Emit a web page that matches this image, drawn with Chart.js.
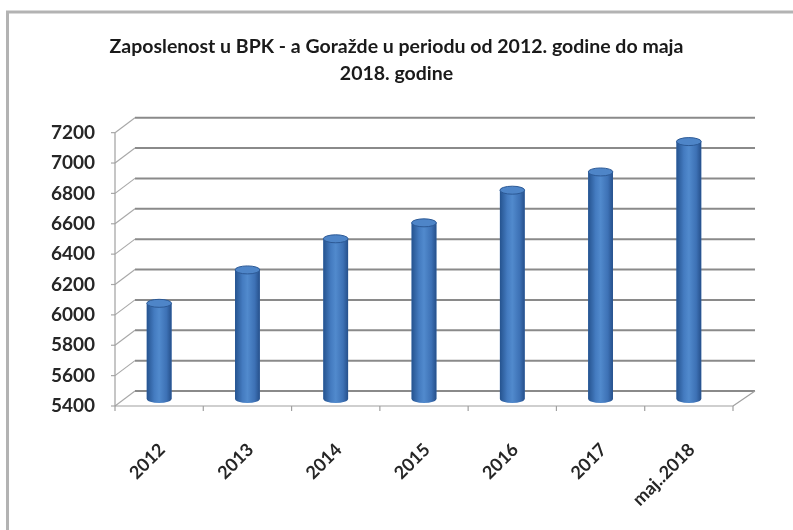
<!DOCTYPE html>
<html>
<head>
<meta charset="utf-8">
<script src="https://cdn.jsdelivr.net/npm/chart.js@4.4.1/dist/chart.umd.min.js"></script>
<style>
  html, body { margin: 0; padding: 0; background: #fff; }
  #wrap { width: 793px; height: 530px; }
</style>
</head>
<body>
<div id="wrap"><canvas id="employChart"></canvas></div>
<script>
const categories = ['2012', '2013', '2014', '2015', '2016', '2017', 'maj..2018'];
const employed = [6030, 6250, 6455, 6560, 6775, 6895, 7095];
const yTicks = [5400, 5600, 5800, 6000, 6200, 6400, 6600, 6800, 7000, 7200];
const titleLines = ['Zaposlenost u BPK - a Goražde u periodu od 2012. godine do maja', '2018. godine'];

// fake 3d: back wall sits up-right of the bars, front axis down-left
const depthX = 20, backUp = 8, frontDown = 7;

function line(c, x1, y1, x2, y2) {
  c.beginPath();
  c.moveTo(x1, y1);
  c.lineTo(x2, y2);
  c.stroke();
}

const wallPlugin = {
  id: 'walls',
  beforeDraw(chart) {
    const c = chart.ctx;
    c.save();
    c.strokeStyle = '#b3b3b3';
    c.lineWidth = 3;
    c.beginPath();
    c.moveTo(7.5, chart.height);
    c.lineTo(7.5, 12);
    c.lineTo(chart.width, 12);
    c.stroke();
    c.restore();
  },
  beforeDatasetsDraw(chart) {
    const c = chart.ctx, y = chart.scales.y, x = chart.scales.x;
    const L = chart.chartArea.left, R = chart.chartArea.right;
    c.save();
    y.ticks.forEach(t => {
      const py = y.getPixelForValue(t.value);
      const yb = py - backUp, yf = py + frontDown;
      c.strokeStyle = '#8a8a8a';
      c.lineWidth = 2;
      line(c, L + depthX, yb, R + depthX + 2, yb);
      c.strokeStyle = '#a8a8a8';
      c.lineWidth = 1.2;
      line(c, L, yf, L + depthX, yb);
      line(c, L - 4, yf, L, yf);
    });
    const yTop = y.getPixelForValue(y.max) + frontDown;
    const yBot = y.getPixelForValue(y.min) + frontDown;
    c.strokeStyle = '#a0a0a0';
    c.lineWidth = 1.2;
    line(c, L, yTop, L, yBot);
    line(c, L, yBot, R, yBot);
    line(c, R, yBot, R + depthX + 2, yBot - backUp - frontDown);
    const step = x.getPixelForTick(1) - x.getPixelForTick(0);
    for (let i = 0; i <= categories.length; i++) {
      const px = x.getPixelForTick(0) - step / 2 + step * i;
      line(c, px, yBot, px, yBot + 5);
    }
    c.restore();
  },
  afterDatasetsDraw(chart) {
    const c = chart.ctx;
    const meta = chart.getDatasetMeta(0);
    c.save();
    meta.data.forEach(bar => {
      const {x, y, base, width} = bar.getProps(['x', 'y', 'base', 'width'], true);
      const l = x - width / 2, r = x + width / 2, ry = 4;
      const g = c.createLinearGradient(l, 0, r, 0);
      g.addColorStop(0, '#25538f');
      g.addColorStop(0.3, '#447bc0');
      g.addColorStop(0.5, '#518acd');
      g.addColorStop(0.8, '#3d71b5');
      g.addColorStop(1, '#26508b');
      c.fillStyle = g;
      c.beginPath();
      c.moveTo(l, y);
      c.lineTo(l, base);
      c.ellipse(x, base, width / 2, ry, 0, Math.PI, 0, true);
      c.lineTo(r, y);
      c.closePath();
      c.fill();
      c.beginPath();
      c.ellipse(x, y, width / 2, ry, 0, 0, Math.PI * 2);
      c.fillStyle = '#4e85c8';
      c.fill();
      c.strokeStyle = '#2c5995';
      c.lineWidth = 1;
      c.stroke();
    });
    c.restore();
  }
};

Chart.defaults.font.family = 'Lato, "Open Sans", sans-serif';

const ctx = document.getElementById('employChart').getContext('2d');
new Chart(ctx, {
  type: 'bar',
  data: {
    labels: categories,
    datasets: [{
      data: employed,
      base: yTicks[0],
      backgroundColor: '#3f74b8',
      borderWidth: 0,
      barPercentage: 0.28,
      categoryPercentage: 1
    }]
  },
  options: {
    responsive: true,
    maintainAspectRatio: false,
    animation: false,
    layout: { padding: 0 },
    plugins: {
      legend: { display: false },
      tooltip: { enabled: false },
      title: {
        display: true,
        text: titleLines,
        color: '#1a1a1a',
        font: { size: 19.5, weight: 'bold', lineHeight: 1.35 },
        padding: { top: 34, bottom: 39 }
      }
    },
    scales: {
      x: {
        grid: { display: false, drawTicks: false },
        border: { display: false },
        ticks: {
          color: '#262626',
          font: { size: 18, weight: 'bold' },
          minRotation: 45,
          maxRotation: 45,
          autoSkip: false,
          padding: 40,
          labelOffset: 3
        },
        afterFit(scale) { scale.height = 131; }
      },
      y: {
        min: yTicks[0],
        max: yTicks[yTicks.length - 1],
        grid: { display: false, drawTicks: false },
        border: { display: false },
        ticks: {
          color: '#262626',
          font: { size: 19, weight: 'bold' },
          padding: 20,
          labelOffset: frontDown,
          callback: v => String(v)
        },
        afterBuildTicks(scale) { scale.ticks = yTicks.map(v => ({ value: v })); },
        afterFit(scale) { scale.width = 115; }
      },
      // empty right-hand strip so the plot ends where the reference does
      spacer: {
        type: 'linear',
        position: 'right',
        grid: { display: false, drawTicks: false },
        border: { display: false },
        ticks: { display: false },
        afterFit(scale) { scale.width = 60; }
      }
    }
  },
  plugins: [wallPlugin]
});
</script>
</body>
</html>
